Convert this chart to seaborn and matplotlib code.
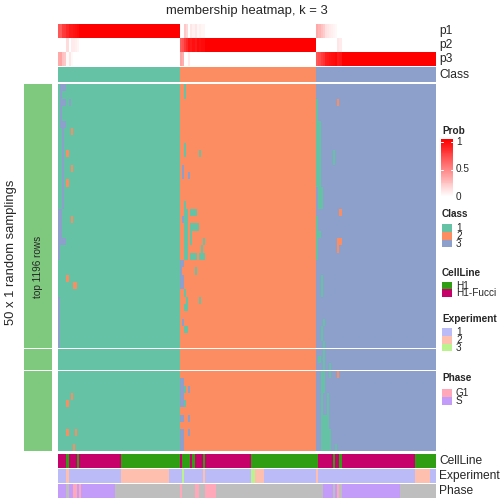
# ==============================================================================
# Heatmap de pertenencia (membership heatmap, k = 3) - 50 x 1 amostragens
# ==============================================================================
import numpy as np
import matplotlib
matplotlib.use("Agg")
import matplotlib.pyplot as plt
from matplotlib.colors import ListedColormap, LinearSegmentedColormap
from matplotlib.patches import Rectangle
import seaborn as sns

sns.set_style("white")
plt.rcParams['font.family'] = ['Liberation Sans', 'DejaVu Sans']

# ------------------------------------------------------------------------------
# 1. Dados
# ------------------------------------------------------------------------------
class_sizes = [58, 65, 57]      # colunas por classe 1, 2, 3
slice_rows = [36, 3, 11]        # linhas (amostragens) em cada fatia

# colunas com pertenencia incerta e suas probabilidades
uncertain_cols = [0, 1, 2, 3, 4, 5, 6, 7, 8, 9,
                  58, 59, 60, 61, 62, 63, 64, 65, 66, 67, 68, 69,
                  123, 124, 125, 126, 127, 128, 129, 130, 131, 132, 133, 134]
p1_vals = [0.66, 0.64, 0.76, 0.78, 0.84, 0.9, 0.9, 0.92, 0.94, 0.96,
           0, 0, 0.22, 0.16, 0, 0.1, 0.06, 0.1, 0.04, 0.06, 0.04, 0.04,
           0.34, 0.3, 0.24, 0.2, 0.12, 0.1, 0.08, 0.06, 0.05, 0.03, 0, 0]
p2_vals = [0, 0, 0, 0, 0.14, 0, 0.08, 0.08, 0.06, 0.04,
           0.64, 0.68, 0.78, 0.84, 0.92, 0.9, 0.94, 0.9, 0.96, 0.94, 0.96, 0.96,
           0, 0, 0, 0, 0, 0, 0, 0, 0, 0, 0.1, 0.08]
p3_vals = [0.34, 0.36, 0.24, 0.22, 0.02, 0.1, 0.02, 0, 0, 0,
           0.36, 0.32, 0, 0, 0.08, 0, 0, 0, 0, 0, 0, 0,
           0.66, 0.7, 0.76, 0.8, 0.88, 0.9, 0.92, 0.94, 0.95, 0.97, 0.9, 0.92]

# desvios da classe consenso: (linha_ini, linha_fim, col_ini, col_fim, classe)
dev_class1 = [(0, 0, 1, 3, 3), (1, 4, 1, 1, 3), (2, 2, 2, 3, 3), (2, 2, 5, 5, 3),
              (5, 5, 1, 3, 3), (6, 16, 2, 2, 3), (17, 20, 0, 1, 3), (21, 21, 0, 3, 3),
              (22, 23, 0, 0, 3), (29, 35, 0, 0, 3),
              (6, 6, 6, 6, 2), (9, 9, 4, 4, 2), (11, 11, 6, 6, 2), (13, 13, 4, 4, 2),
              (18, 18, 6, 6, 2), (26, 26, 4, 4, 2), (27, 27, 7, 8, 2), (42, 42, 6, 6, 2),
              (43, 43, 4, 4, 2), (47, 47, 4, 4, 2), (47, 47, 8, 8, 2), (49, 49, 7, 7, 2)]
dev_class2 = [(0, 1, 60, 60, 1), (8, 9, 60, 60, 1), (9, 9, 67, 67, 1), (16, 16, 60, 60, 1),
              (17, 22, 60, 61, 1), (17, 17, 63, 65, 1), (19, 19, 63, 66, 1), (20, 21, 63, 63, 1),
              (21, 21, 69, 69, 1), (22, 22, 68, 68, 1), (23, 23, 60, 61, 1), (23, 23, 63, 65, 1),
              (23, 23, 67, 69, 1), (25, 25, 65, 65, 1), (28, 28, 60, 60, 1), (29, 29, 61, 61, 1),
              (29, 29, 67, 67, 1), (30, 30, 60, 61, 1), (33, 33, 60, 61, 1), (41, 41, 60, 60, 1),
              (43, 43, 60, 60, 1),
              (11, 12, 59, 59, 3), (12, 12, 62, 62, 3), (18, 18, 59, 59, 3), (24, 24, 58, 59, 3),
              (25, 25, 58, 58, 3), (26, 27, 58, 59, 3), (32, 32, 59, 59, 3), (40, 43, 58, 59, 3),
              (41, 41, 62, 62, 3), (45, 45, 58, 59, 3), (45, 45, 62, 62, 3), (47, 49, 58, 59, 3),
              (47, 47, 62, 62, 3)]
dev_class3 = [(2, 4, 123, 123, 1), (5, 13, 123, 124, 1), (9, 10, 131, 131, 1), (14, 16, 124, 125, 1),
              (18, 23, 123, 123, 1), (20, 20, 124, 124, 1), (26, 28, 125, 125, 1), (32, 32, 126, 126, 1),
              (33, 34, 125, 125, 1), (35, 38, 126, 126, 1), (37, 37, 124, 124, 1), (38, 39, 129, 129, 1),
              (39, 41, 125, 126, 1), (42, 44, 125, 125, 1), (42, 44, 128, 128, 1), (45, 46, 125, 128, 1),
              (47, 49, 125, 129, 1), (49, 49, 132, 132, 1),
              (2, 2, 133, 133, 2), (17, 17, 134, 134, 2), (21, 21, 133, 134, 2), (22, 22, 133, 133, 2),
              (39, 39, 133, 133, 2)]

# anotações (run-length): (nivel, n_colunas)
cellline_runs = [("H1-Fucci", 4), ("H1", 1), ("H1-Fucci", 4), ("H1", 1), ("H1-Fucci", 20),
                 ("H1", 28), ("H1-Fucci", 1), ("H1", 4), ("H1-Fucci", 1), ("H1", 1),
                 ("H1-Fucci", 4), ("H1", 1), ("H1-Fucci", 22), ("H1", 32), ("H1-Fucci", 7),
                 ("H1", 1), ("H1-Fucci", 2), ("H1", 1), ("H1-Fucci", 35), ("H1", 10)]
experiment_runs = [("1", 4), ("2", 1), ("1", 25), ("2", 23), ("1", 6), ("3", 1), ("1", 9),
                   ("2", 1), ("1", 22), ("3", 2), ("2", 4), ("1", 25), ("2", 1), ("1", 46),
                   ("2", 7), ("1", 3)]
phase_runs = [("S", 4), ("NA", 1), ("S", 2), ("G1", 2), ("S", 1), ("G1", 1), ("S", 16),
              ("NA", 31), ("G1", 1), ("NA", 6), ("G1", 2), ("NA", 3), ("G1", 5), ("NA", 51),
              ("S", 5), ("NA", 1), ("S", 1), ("G1", 1), ("NA", 1), ("S", 28), ("NA", 17)]

# cores
class_colors = {"1": "#66C2A5", "2": "#FC8D62", "3": "#8DA0CB"}
cellline_colors = {"H1": "#2F9E13", "H1-Fucci": "#C6016A"}
experiment_colors = {"1": "#BBBBF8", "2": "#FEBFAF", "3": "#BAF28E"}
phase_colors = {"NA": "#BEBEBE", "G1": "#FFA8BA", "S": "#C39BF8"}
bar_color = "#7FC97F"

# ------------------------------------------------------------------------------
# 2. Montando as matrizes
# ------------------------------------------------------------------------------
n_cols = sum(class_sizes)
n_rows = sum(slice_rows)
consensus = np.repeat([1, 2, 3], class_sizes)

prob = np.zeros((3, n_cols))
prob[consensus - 1, np.arange(n_cols)] = 1.0
prob[0, uncertain_cols] = p1_vals
prob[1, uncertain_cols] = p2_vals
prob[2, uncertain_cols] = p3_vals

membership = np.tile(consensus, (n_rows, 1))
for r0, r1, c0, c1, k in dev_class1 + dev_class2 + dev_class3:
    membership[r0:r1 + 1, c0:c1 + 1] = k


def expand(runs, levels):
    codes = []
    for lev, n in runs:
        codes += [levels.index(lev)] * n
    return np.array(codes)[None, :]


# ------------------------------------------------------------------------------
# 3. Desenhando
# ------------------------------------------------------------------------------
W = H = 504
fig = plt.figure(figsize=(7, 7), dpi=72)


def px_ax(x0, y0, x1, y1):
    return fig.add_axes([x0 / W, 1 - y1 / H, (x1 - x0) / W, (y1 - y0) / H])


def cat_heat(ax, mat, colors):
    sns.heatmap(mat, ax=ax, cmap=ListedColormap(colors), vmin=-0.5, vmax=len(colors) - 0.5,
                cbar=False, xticklabels=False, yticklabels=False)
    ax.set_xlabel("")
    ax.set_ylabel("")


prob_cmap = LinearSegmentedColormap.from_list("prob", ["#FFFFFF", "#FF0000"])
cls_list = [class_colors[k] for k in ["1", "2", "3"]]
X0, X1 = 58, 436

# linhas de probabilidade p1, p2, p3
ax = px_ax(X0, 24, X1, 66)
sns.heatmap(prob, ax=ax, cmap=prob_cmap, vmin=0, vmax=1, cbar=False,
            xticklabels=False, yticklabels=False)

# linha de classe
ax = px_ax(X0, 67, X1, 82)
cat_heat(ax, (consensus - 1)[None, :], cls_list)

# corpo principal, dividido em fatias
slice_px = [(84, 348), (349, 370), (371, 451)]
r = 0
for (y0, y1), n in zip(slice_px, slice_rows):
    ax = px_ax(X0, y0, X1, y1)
    cat_heat(ax, membership[r:r + n] - 1, cls_list)
    axb = px_ax(24, y0, 52, y1)
    cat_heat(axb, np.zeros((n, 1)), [bar_color])
    r += n

# anotações inferiores
cl_levels = ["H1", "H1-Fucci"]
ex_levels = ["1", "2", "3"]
ph_levels = ["NA", "G1", "S"]
ax = px_ax(X0, 454, X1, 468)
cat_heat(ax, expand(cellline_runs, cl_levels), [cellline_colors[k] for k in cl_levels])
ax = px_ax(X0, 469, X1, 483)
cat_heat(ax, expand(experiment_runs, ex_levels), [experiment_colors[k] for k in ex_levels])
ax = px_ax(X0, 484, X1, 498)
cat_heat(ax, expand(phase_runs, ph_levels), [phase_colors[k] for k in ph_levels])

# barra de cor da legenda Prob
ax = px_ax(441, 139, 453, 197)
grad = np.linspace(1, 0, 60)[:, None]
sns.heatmap(grad, ax=ax, cmap=prob_cmap, vmin=0, vmax=1, cbar=False,
            xticklabels=False, yticklabels=False)

# camada de texto/legendas em coordenadas de pixel
ov = fig.add_axes([0, 0, 1, 1])
ov.set_xlim(0, W)
ov.set_ylim(H, 0)
ov.axis("off")
ov.patch.set_alpha(0)

ov.text(247, 11, "membership heatmap, k = 3", ha="center", va="center", fontsize=13)
for lab, y in [("p1", 31), ("p2", 45), ("p3", 59), ("Class", 74.5),
               ("CellLine", 461), ("Experiment", 476), ("Phase", 491)]:
    ov.text(439, y, lab, ha="left", va="center", fontsize=12)

ov.text(11, 252, "50 x 1 random samplings", rotation=90, ha="center", va="center", fontsize=13)
ov.text(38, 267, "top 1196 rows", rotation=90, ha="center", va="center", fontsize=10)

# ticks brancos na barra de cor
for yt in [142, 169.5]:
    ov.plot([441, 443], [yt, yt], color="white", lw=1)
    ov.plot([451, 453], [yt, yt], color="white", lw=1)

ov.text(442, 130.5, "Prob", fontweight="bold", fontsize=10, ha="left", va="center")
for lab, y in [("1", 142), ("0.5", 169.5), ("0", 197)]:
    ov.text(456, y, lab, fontsize=10, ha="left", va="center")


def legend_block(title, ty, labels, colors, y0, h=7.7):
    ov.text(442, ty, title, fontweight="bold", fontsize=10, ha="left", va="center")
    for i, (lab, col) in enumerate(zip(labels, colors)):
        yy = y0 + i * h
        ov.add_patch(Rectangle((442, yy), 10, h, facecolor=col, edgecolor="none"))
        ov.text(456, yy + h / 2, lab, fontsize=10, ha="left", va="center")


legend_block("Class", 214, ["1", "2", "3"], cls_list, 224.3)
legend_block("CellLine", 273.3, cl_levels, [cellline_colors[k] for k in cl_levels], 281.7)
legend_block("Experiment", 319.3, ex_levels, [experiment_colors[k] for k in ex_levels], 328.3)
legend_block("Phase", 377.7, ["G1", "S"], [phase_colors["G1"], phase_colors["S"]], 389.3)

fig.savefig("out.png", dpi=72)
